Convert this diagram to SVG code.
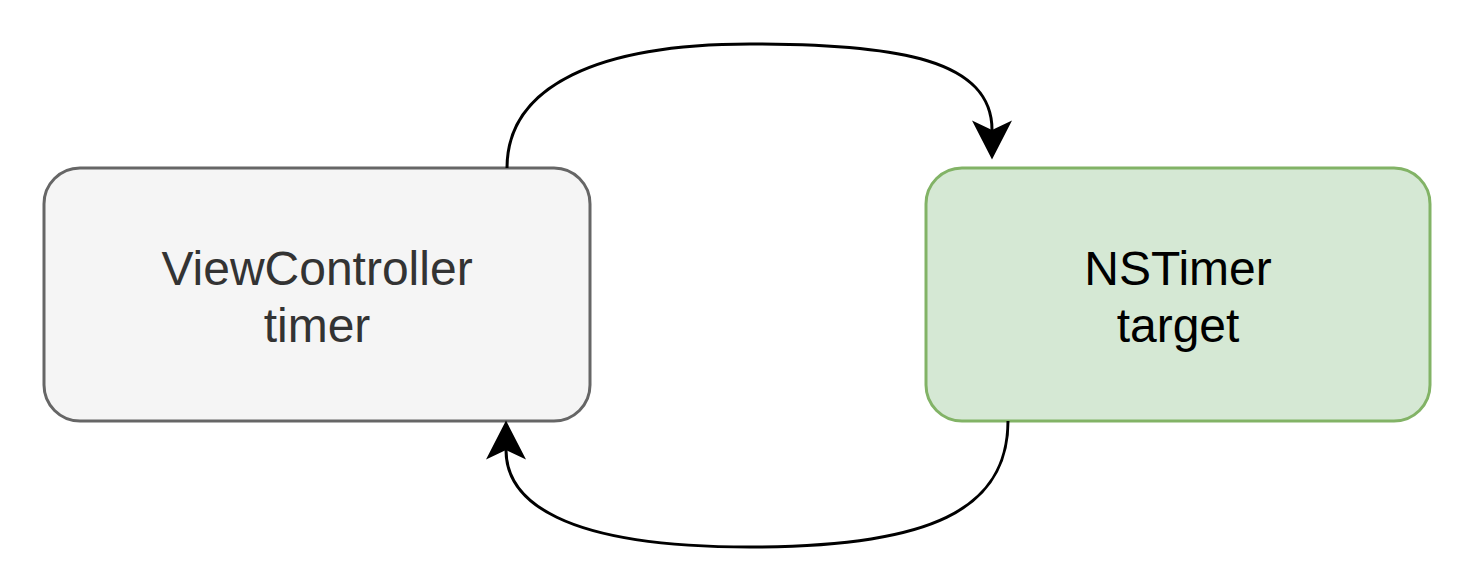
<svg xmlns="http://www.w3.org/2000/svg" width="1476" height="582" viewBox="0 0 1476 582">
  <style>
    .label { font-family: "Liberation Sans", Arial, Helvetica, sans-serif; font-size: 48px; text-anchor: middle; }
    .edge { fill: none; stroke: #000000; stroke-width: 3; marker-end: url(#arrow); }
  </style>
  <defs>
    <marker id="arrow" markerUnits="userSpaceOnUse" markerWidth="40" markerHeight="40" viewBox="0 0 37 38" refX="9" refY="19" orient="auto">
      <path d="M0,0 L37,19 L0,38 L9,19 Z" fill="#000000"/>
    </marker>
  </defs>
  <rect width="1476" height="582" fill="#ffffff"/>
  <g id="node-viewcontroller">
    <rect x="44" y="168" width="546" height="253" rx="36" ry="36" fill="#f5f5f5" stroke="#666666" stroke-width="3"/>
    <text class="label" fill="#333333"><tspan x="317" y="285">ViewController</tspan><tspan x="317" y="342">timer</tspan></text>
  </g>
  <g id="node-nstimer">
    <rect x="926" y="168" width="504" height="253" rx="36" ry="36" fill="#d5e8d4" stroke="#82b366" stroke-width="3"/>
    <text class="label" fill="#000000"><tspan x="1178" y="285">NSTimer</tspan><tspan x="1178" y="342">target</tspan></text>
  </g>
  <g id="connectors">
    <path class="edge" d="M507,168 C507,85 600,44 750,44 C900,44 992,60 992,130"/>
    <path class="edge" d="M1008,421 C1008,510 930,547 750,547 C560,547 506,500 506,450"/>
  </g>
</svg>
